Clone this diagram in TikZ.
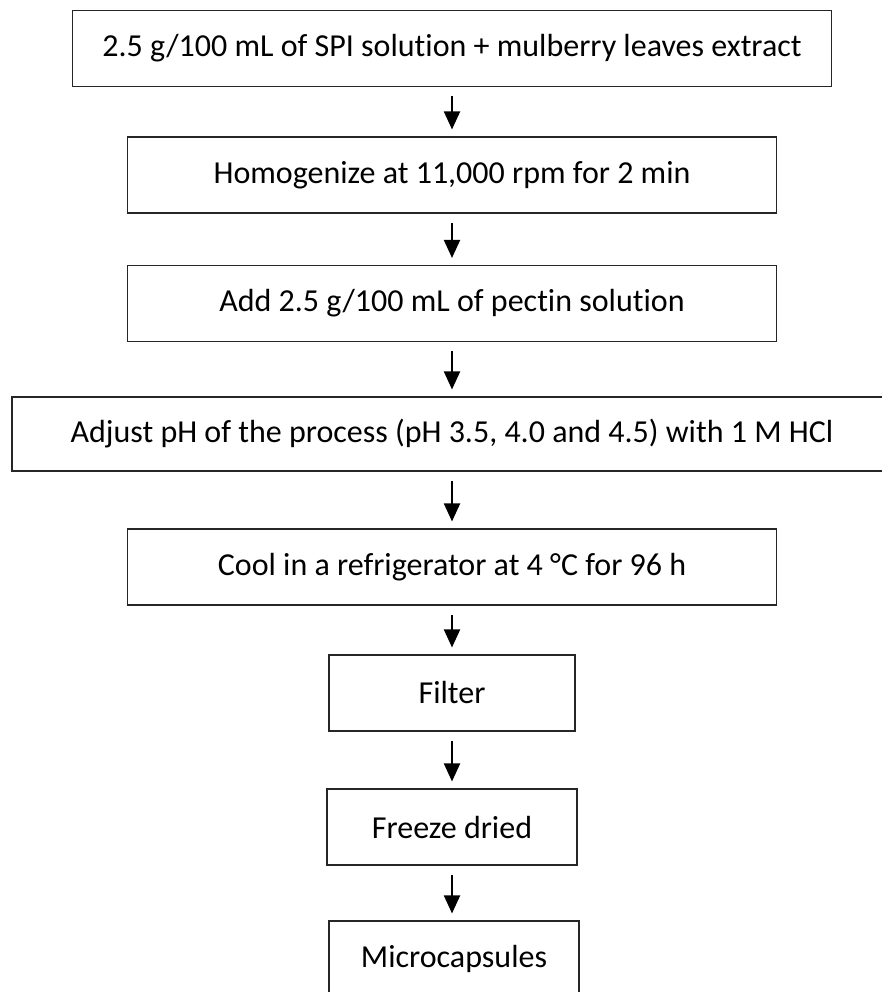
\documentclass[tikz,border=0pt]{standalone}
\usepackage{fontspec}
\setmainfont{Carlito}[Ligatures=NoCommon]
\usetikzlibrary{arrows.meta}

\begin{document}
\begin{tikzpicture}[x=1pt,y=-1pt,
  stepbox/.style={draw=black!85,line width=1.1pt,minimum height=76pt,inner sep=0pt,font=\fontsize{32}{38}\selectfont},
  flow/.style={-{Triangle[width=16pt,length=18pt]},line width=2pt,shorten <=9pt,shorten >=7pt}]
  \useasboundingbox (0,0) rectangle (882,992);
  \node[stepbox,minimum width=759pt] (mix) at (452,48.5) {2.5 g/100 mL of SPI solution + mulberry leaves extract};
  \node[stepbox,minimum width=649pt] (homo) at (452,175) {Homogenize at 11,000 rpm for 2 min};
  \node[stepbox,minimum width=649pt] (pectin) at (452,303.5) {Add 2.5 g/100 mL of pectin solution};
  \node[stepbox,minimum width=880pt,minimum height=74pt] (ph) at (452,434) {Adjust pH of the process (pH 3.5, 4.0 and 4.5) with 1 M HCl};
  \node[stepbox,minimum width=649pt] (cool) at (452,567) {Cool in a refrigerator at 4 °C for 96 h};
  \node[stepbox,minimum width=246pt] (filter) at (452,693) {Filter};
  \node[stepbox,minimum width=250pt] (freeze) at (452,827) {Freeze dried};
  \node[stepbox,minimum width=250pt] (micro) at (454,959) {Microcapsules};
  \foreach \a/\b in {mix/homo,homo/pectin,pectin/ph,ph/cool,cool/filter,filter/freeze}{\draw[flow] (\a) -- (\b);}
  \draw[flow] (freeze) -- (freeze |- micro.north);
\end{tikzpicture}
\end{document}
